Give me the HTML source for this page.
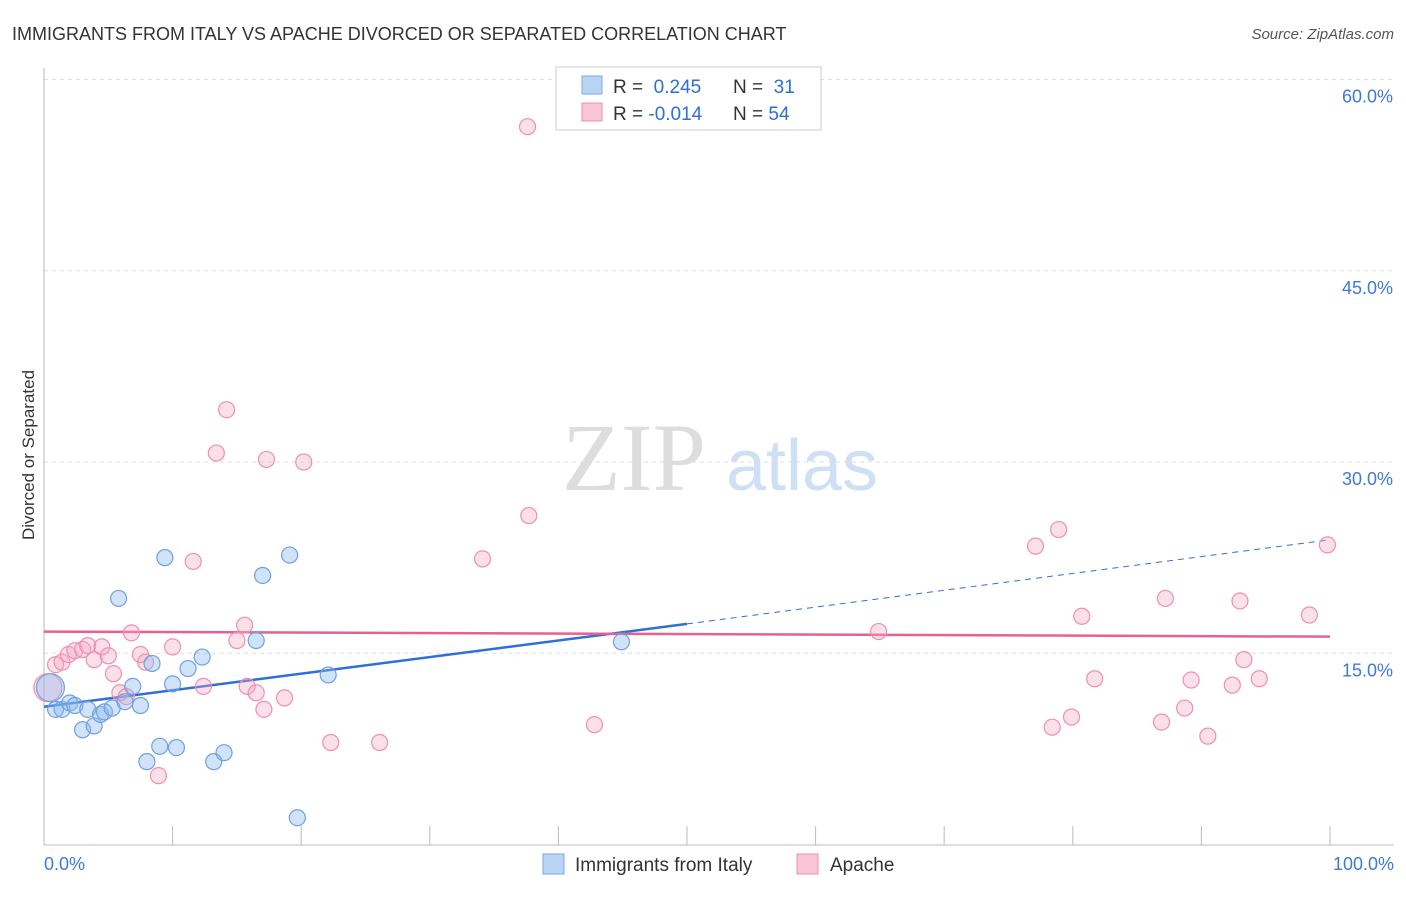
<!DOCTYPE html>
<html><head><meta charset="utf-8"><style>
body{margin:0;background:#fff;font-family:"Liberation Sans",sans-serif}
</style></head><body>
<svg width="1406" height="892" xmlns="http://www.w3.org/2000/svg" font-family="Liberation Sans, sans-serif">
<text x="12" y="40" font-size="18" fill="#333">IMMIGRANTS FROM ITALY VS APACHE DIVORCED OR SEPARATED CORRELATION CHART</text>
<text x="1394" y="39" font-size="15" fill="#555" text-anchor="end" font-style="italic">Source: ZipAtlas.com</text>
<g><text x="634" y="490" font-size="96" fill="#ddd" text-anchor="middle" font-family="Liberation Serif, serif">ZIP</text><text x="802" y="490" font-size="72" fill="#cfe0f5" text-anchor="middle">atlas</text></g>
<text transform="translate(34,455) rotate(-90)" font-size="17" fill="#333" text-anchor="middle">Divorced or Separated</text>
<g id="grid"></g><g id="axes"></g><g id="lines"></g><g id="pts"></g>
<g>
<rect x="556" y="67" width="265" height="63" fill="#fff" stroke="#ccc"/>
<rect x="582" y="76" width="20" height="18" fill="#b9d3f5" stroke="#7aaae8"/>
<rect x="582" y="103" width="20" height="18" fill="#f9c6d6" stroke="#ee8fb0"/>
<text x="613" y="93" font-size="19" fill="#333">R = <tspan fill="#2f6fd0">&#160;0.245</tspan><tspan x="733">N = </tspan><tspan fill="#2f6fd0">&#160;31</tspan></text>
<text x="613" y="120" font-size="19" fill="#333">R = <tspan fill="#2f6fd0">-0.014</tspan><tspan x="733">N = </tspan><tspan fill="#2f6fd0">54</tspan></text>
</g>
<g>
<rect x="543" y="854" width="21" height="20" fill="#b9d3f5" stroke="#7aaae8"/>
<text x="575" y="871" font-size="19" fill="#333">Immigrants from Italy</text>
<rect x="797" y="854" width="21" height="20" fill="#f9c6d6" stroke="#ee8fb0"/>
<text x="830" y="871" font-size="19" fill="#333">Apache</text>
</g>
</svg>
<script>
const blueX=[0.5,0.9,1.4,2.0,2.4,3.0,3.4,3.9,4.4,4.7,5.3,5.8,6.3,6.9,7.5,8.0,8.4,9.0,9.4,10.0,10.3,11.2,12.3,13.2,14.0,16.5,17.0,19.1,19.7,22.1,44.9];
const blueY=[12.3,10.6,10.6,11.1,10.9,9.0,10.6,9.3,10.2,10.4,10.7,19.3,11.2,12.4,10.9,6.5,14.2,7.7,22.5,12.6,7.6,13.8,14.7,6.5,7.2,16.0,21.1,22.7,2.1,13.3,15.9];
const pinkX=[0.3,0.9,1.4,1.9,2.4,3.0,3.4,3.9,4.5,5.0,5.4,5.9,6.4,6.8,7.5,7.9,8.9,10.0,11.6,12.4,13.4,14.2,15.0,15.6,15.8,16.5,17.1,17.3,18.7,20.2,22.3,26.1,34.1,37.6,37.7,42.8,64.9,77.1,78.4,78.9,79.9,80.7,81.7,86.9,87.2,88.7,89.2,90.5,92.4,93.0,93.3,94.5,98.4,99.8];
const pinkY=[12.3,14.1,14.3,14.9,15.2,15.3,15.6,14.5,15.5,14.8,13.4,11.9,11.6,16.6,14.9,14.3,5.4,15.5,22.2,12.4,30.7,34.1,16.0,17.2,12.4,11.9,10.6,30.2,11.5,30.0,8.0,8.0,22.4,56.3,25.8,9.4,16.7,23.4,9.2,24.7,10.0,17.9,13.0,9.6,19.3,10.7,12.9,8.5,12.5,19.1,14.5,13.0,18.0,23.5];
const blueTrend=[10.8,17.3,23.9]; // at x=0,50,100
const pinkTrend=[16.7,16.3]; // at x=0,100
const yTicks=[15,30,45,60];
const xTickLabels=["0.0%","100.0%"];
const NS="http://www.w3.org/2000/svg";
const sx=v=>44+v*12.86, sy=v=>844.5-v*12.75;
function mk(p,t,a){const e=document.createElementNS(NS,t);for(const k in a)e.setAttribute(k,a[k]);document.getElementById(p).appendChild(e);return e;}
yTicks.forEach(t=>{
 const l=mk('grid','line',{x1:44,x2:1394,y1:sy(t),y2:sy(t),stroke:'#ddd','stroke-dasharray':'4,4'});
 
 
 const tx=mk('grid','text',{x:1393,y:sy(t)+23,'font-size':18,fill:'#3d7ad6','text-anchor':'end'});
 tx.textContent=t.toFixed(1)+'%';
 
 
});
mk('axes','line',{x1:44,x2:44,y1:68,y2:845,stroke:'#bbb'});
const xa=mk('axes','line',{x1:44,x2:1394,y1:845,y2:845,stroke:'#bbb'});


for(let i=0;i<=10;i++){mk('axes','line',{x1:sx(i*10),x2:sx(i*10),y1:826,y2:845,stroke:'#bbb'});}
const x0=mk('axes','text',{x:44,y:870,'font-size':18,fill:'#3d7ad6'});x0.textContent=xTickLabels[0];


const x1=mk('axes','text',{x:1394,y:870,'font-size':18,fill:'#3d7ad6','text-anchor':'end'});x1.textContent=xTickLabels[1];


function pts(X,Y,fill,stroke,name){X.forEach((x,i)=>{const c=mk('pts','circle',{cx:sx(x),cy:sy(Y[i]),r:i===0?14:8,fill:fill,stroke:stroke,'stroke-width':1.2});
 
 });}
pts(pinkX,pinkY,'rgba(245,165,192,0.35)','#ee8fb0','apache-point');
pts(blueX,blueY,'rgba(140,185,240,0.4)','#6fa0e0','italy-point');
const b1=mk('lines','line',{x1:sx(0),y1:sy(blueTrend[0]),x2:sx(50),y2:sy(blueTrend[1]),stroke:'#2f6fd6','stroke-width':2.5});


const b2=mk('lines','line',{x1:sx(50),y1:sy(blueTrend[1]),x2:sx(100),y2:sy(blueTrend[2]),stroke:'#2f6fd6','stroke-width':1,'stroke-dasharray':'6,5'});


const p1=mk('lines','line',{x1:sx(0),y1:sy(pinkTrend[0]),x2:sx(100),y2:sy(pinkTrend[1]),stroke:'#e8608f','stroke-width':2.5});


</script>
</body></html>
